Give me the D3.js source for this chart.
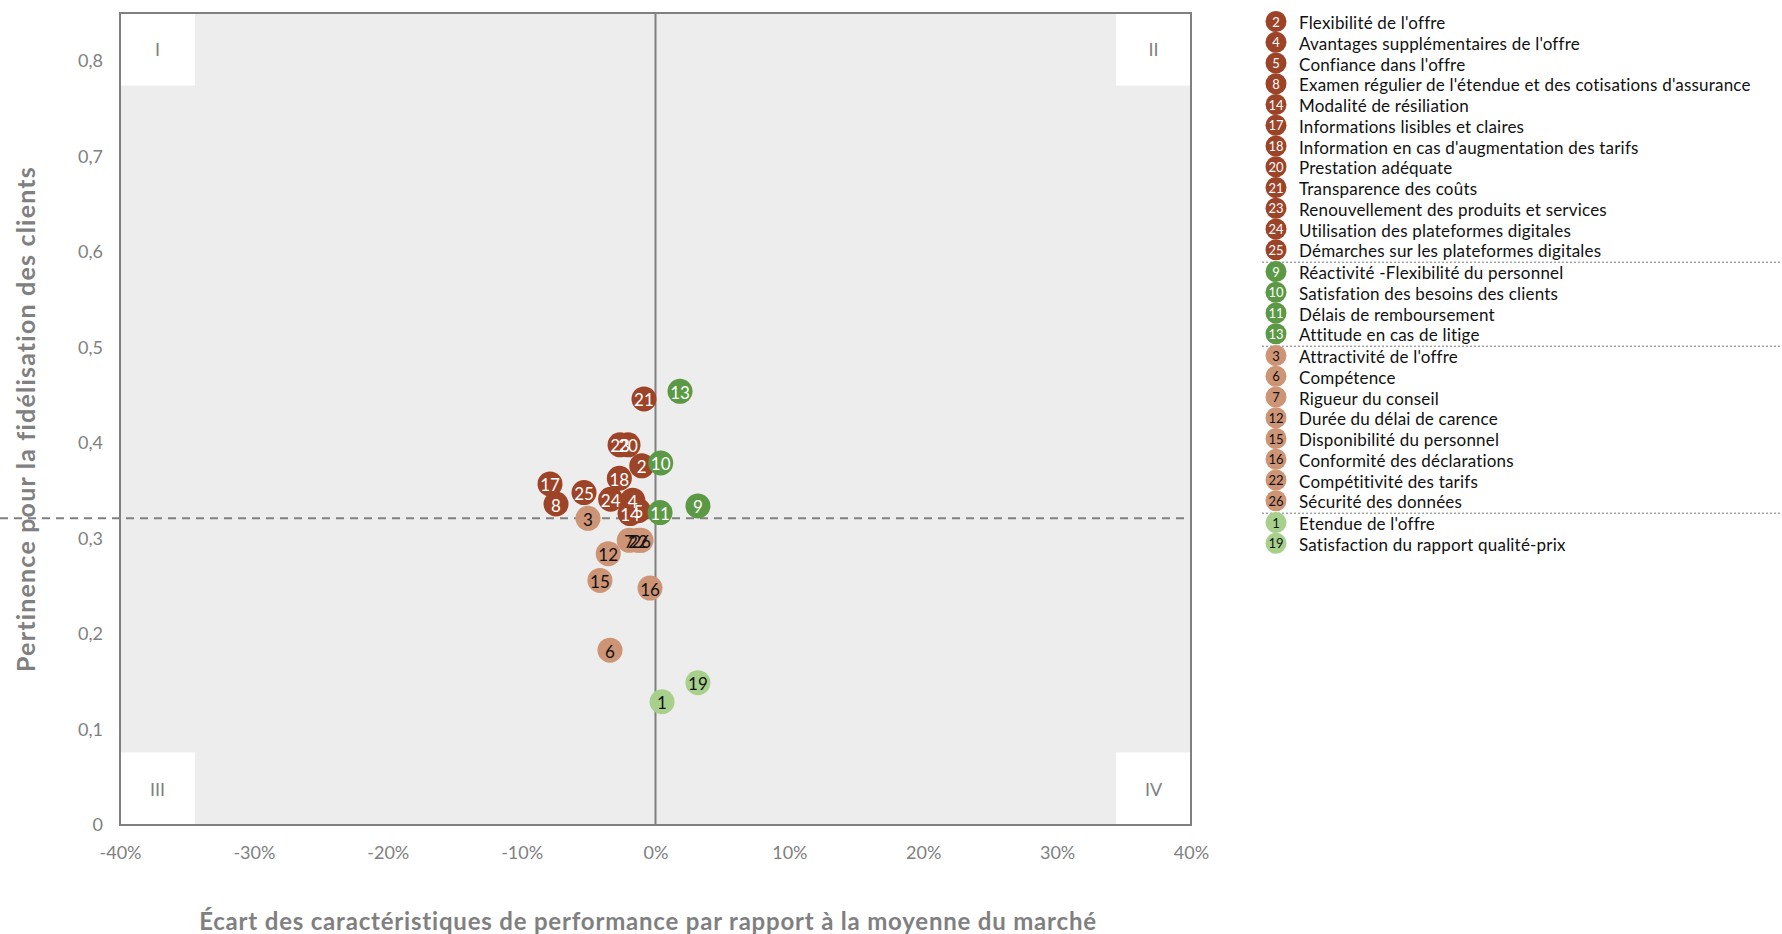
<!DOCTYPE html>
<html><head><meta charset="utf-8">
<script src="https://cdn.jsdelivr.net/npm/d3@7"></script>
<style>
html,body{margin:0;padding:0;background:#fff;}
svg text{font-family:Lato,"Open Sans",sans-serif;}
</style></head>
<body>
<svg id="chart" width="1782" height="934"></svg>
<script>
// ---------- DATA ----------
const xTicks = [-0.40,-0.30,-0.20,-0.10,0,0.10,0.20,0.30,0.40];
const xTickLabels = ["-40%","-30%","-20%","-10%","0%","10%","20%","30%","40%"];
const yTicks = [0,0.1,0.2,0.3,0.4,0.5,0.6,0.7,0.8];
const yTickLabels = ["0","0,1","0,2","0,3","0,4","0,5","0,6","0,7","0,8"];
const averageY = 0.321;
const quadrantLabels = ["I","II","III","IV"];

const redIds    = [2,4,5,8,14,17,18,20,21,23,24,25];
const redNames  = ["Flexibilité de l'offre","Avantages supplémentaires de l'offre","Confiance dans l'offre","Examen régulier de l'étendue et des cotisations  d'assurance","Modalité de résiliation","Informations lisibles et claires","Information en cas d'augmentation des tarifs","Prestation adéquate","Transparence des coûts","Renouvellement  des produits et services","Utilisation des plateformes digitales","Démarches sur les plateformes  digitales"];
const redX      = [-0.0103,-0.0170,-0.0128,-0.0743,-0.0190,-0.0788,-0.0270,-0.0205,-0.0086,-0.0265,-0.0335,-0.0534];
const redY      = [0.376,0.340,0.329,0.336,0.326,0.357,0.363,0.398,0.446,0.398,0.341,0.348];

const greenIds   = [9,10,11,13];
const greenNames = ["Réactivité  -Flexibilité du personnel","Satisfation  des besoins des clients","Délais de remboursement","Attitude en cas de litige"];
const greenX     = [0.0317,0.0039,0.0034,0.0183];
const greenY     = [0.334,0.379,0.327,0.454];

const tanIds   = [3,6,7,12,15,16,22,26];
const tanNames = ["Attractivité de l'offre","Compétence","Rigueur du conseil","Durée du délai de carence","Disponibilité du personnel","Conformité des déclarations","Compétitivité  des tarifs","Sécurité des données"];
const tanX     = [-0.0504,-0.0340,-0.0196,-0.0353,-0.0415,-0.0041,-0.0131,-0.0108];
const tanY     = [0.321,0.183,0.298,0.284,0.256,0.248,0.298,0.298];

const lightIds   = [1,19];
const lightNames = ["Etendue de l'offre","Satisfaction  du rapport qualité-prix"];
const lightX     = [0.0049,0.0317];
const lightY     = [0.129,0.149];

const xAxisTitle = "Écart des caractéristiques de performance par rapport  à la moyenne du marché";
const yAxisTitle = "Pertinence pour la fidélisation des clients";

// ---------- BUILD ----------
const groups = [
  {ids:redIds,names:redNames,xs:redX,ys:redY,fill:"#9d4327",text:"#fff"},
  {ids:greenIds,names:greenNames,xs:greenX,ys:greenY,fill:"#5b9945",text:"#fff"},
  {ids:tanIds,names:tanNames,xs:tanX,ys:tanY,fill:"#cd9475",text:"#111"},
  {ids:lightIds,names:lightNames,xs:lightX,ys:lightY,fill:"#a8d08d",text:"#111"}
];

const svg = d3.select("#chart");
const L=120, R=1191, T=13, B=825;
const x = d3.scaleLinear().domain([-0.40,0.40]).range([L,R]);
const y = d3.scaleLinear().domain([0,0.85]).range([B,T]);
const gray = "#808080";

// plot background
svg.append("rect").attr("x",L).attr("y",T).attr("width",R-L).attr("height",B-T).attr("fill","#ededed");

// quadrant white boxes
const boxW = 0.056, boxH = 0.076;
const boxes = [
  {x0:-0.40, y1:0.85, lab:quadrantLabels[0]},
  {x0:0.40-boxW, y1:0.85, lab:quadrantLabels[1]},
  {x0:-0.40, y1:boxH, lab:quadrantLabels[2]},
  {x0:0.40-boxW, y1:boxH, lab:quadrantLabels[3]}
];
boxes.forEach(b=>{
  svg.append("rect").attr("x",x(b.x0)).attr("y",y(b.y1))
    .attr("width",x(b.x0+boxW)-x(b.x0)).attr("height",y(b.y1-boxH)-y(b.y1)).attr("fill","#fff");
  svg.append("text").attr("x",(x(b.x0)+x(b.x0+boxW))/2).attr("y",(y(b.y1)+y(b.y1-boxH))/2)
    .attr("text-anchor","middle").attr("dominant-baseline","central")
    .attr("font-size",18).attr("fill",gray).text(b.lab);
});

// vertical zero line
svg.append("line").attr("x1",x(0)).attr("x2",x(0)).attr("y1",T).attr("y2",B)
  .attr("stroke",gray).attr("stroke-width",2);
// dashed average line
svg.append("line").attr("x1",0).attr("x2",R).attr("y1",y(averageY)).attr("y2",y(averageY))
  .attr("stroke",gray).attr("stroke-width",2).attr("stroke-dasharray","8,6");

// border
svg.append("rect").attr("x",L).attr("y",T).attr("width",R-L).attr("height",B-T)
  .attr("fill","none").attr("stroke",gray).attr("stroke-width",2);

// axes
const xAxis = d3.axisBottom(x).tickValues(xTicks).tickFormat((d,i)=>xTickLabels[i]).tickSize(0).tickPadding(21);
const gx = svg.append("g").attr("transform",`translate(0,${B})`).call(xAxis);
gx.select(".domain").remove();
gx.selectAll("text").attr("font-size",18).attr("fill",gray).attr("font-family","Lato");

const yAxis = d3.axisLeft(y).tickValues(yTicks).tickFormat((d,i)=>yTickLabels[i]).tickSize(0).tickPadding(17);
const gy = svg.append("g").attr("transform",`translate(${L},0)`).call(yAxis);
gy.select(".domain").remove();
gy.selectAll("text").attr("font-size",18).attr("fill",gray).attr("font-family","Lato");

// axis titles
svg.append("text").attr("x",648).attr("y",920).attr("text-anchor","middle").attr("dominant-baseline","central")
  .attr("font-size",24).attr("letter-spacing",0.8).attr("font-weight","bold").attr("fill",gray).text(xAxisTitle);
svg.append("text").attr("transform",`translate(25,${(T+B)/2}) rotate(-90)`).attr("text-anchor","middle")
  .attr("dominant-baseline","central").attr("font-size",25).attr("letter-spacing",1.2).attr("font-weight","bold").attr("fill",gray).text(yAxisTitle);

// points: draw order light, tan, red, green
const drawOrder = [3,2,0,1];
const pts = [];
drawOrder.forEach(gi=>{
  const g = groups[gi];
  g.ids.forEach((id,i)=>pts.push({id, x:g.xs[i], y:g.ys[i], fill:g.fill, text:g.text}));
});
const r = 12.5;
svg.append("g").selectAll("circle").data(pts).join("circle")
  .attr("cx",d=>x(d.x)).attr("cy",d=>y(d.y)).attr("r",r).attr("fill",d=>d.fill);
svg.append("g").selectAll("text").data(pts).join("text")
  .attr("x",d=>x(d.x)).attr("y",d=>y(d.y)+1).attr("text-anchor","middle").attr("dominant-baseline","central")
  .attr("font-size",17).attr("fill",d=>d.text).text(d=>d.id);

// legend
const lg = svg.append("g");
const step = 20.75, gap = 1.0, y0 = 21.5, cx = 1276, tx = 1299;
let idx = 0;
groups.forEach((g,gi)=>{
  if(gi>0){
    const sy = y0 + idx*step + gi*gap - 9.3;
    lg.append("line").attr("x1",1262).attr("x2",1782).attr("y1",sy).attr("y2",sy)
      .attr("stroke","#777").attr("stroke-width",1).attr("stroke-dasharray","2,2");
  }
  g.ids.forEach((id,i)=>{
    const yy = y0 + idx*step + gi*gap;
    lg.append("circle").attr("cx",cx).attr("cy",yy).attr("r",10.5).attr("fill",g.fill);
    lg.append("text").attr("x",cx).attr("y",yy).attr("text-anchor","middle").attr("dominant-baseline","central")
      .attr("font-size",13).attr("fill",g.text).text(id);
    lg.append("text").attr("x",tx).attr("y",yy+1).attr("dominant-baseline","central")
      .attr("font-size",17).attr("letter-spacing",0.2).attr("fill","#111").text(g.names[i]);
    idx++;
  });
});
</script>
</body></html>
